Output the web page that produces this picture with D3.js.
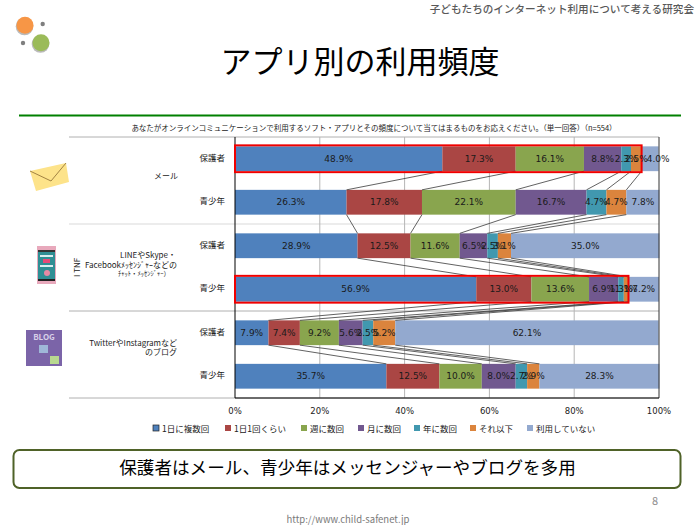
<!DOCTYPE html>
<html>
<head>
<meta charset="utf-8">
<script src="https://cdnjs.cloudflare.com/ajax/libs/d3/7.8.5/d3.min.js"></script>
<style>
    body { margin: 0; background: #fff; }
    text { font-family: "Noto Sans CJK JP", "DejaVu Sans", sans-serif; }
    .num { font-family: "DejaVu Sans", sans-serif; }
</style>
</head>
<body>
<div id="chart"></div>
<script>
var frequency = ["1日に複数回", "1日1回くらい", "週に数回", "月に数回", "年に数回", "それ以下", "利用していない"];
var colors = ["#4f81bd", "#aa4644", "#89a54e", "#71588f", "#4198af", "#db843d", "#93a9cf"];
var rows = ["mail_p", "mail_y", "inf_p", "inf_y", "blog_p", "blog_y"];
var rowLabels = ["保護者", "青少年", "保護者", "青少年", "保護者", "青少年"];
var mail_p = [48.9, 17.3, 16.1, 8.8, 2.3, 2.5, 4.0];
var mail_y = [26.3, 17.8, 22.1, 16.7, 4.7, 4.7, 7.8];
var inf_p = [28.9, 12.5, 11.6, 6.5, 2.5, 3.1, 35.0];
var inf_y = [56.9, 13.0, 13.6, 6.9, 1.3, 1.1, 7.2];
var blog_p = [7.9, 7.4, 9.2, 5.6, 2.5, 5.2, 62.1];
var blog_y = [35.7, 12.5, 10.0, 8.0, 2.7, 2.9, 28.3];
var rowValues = [mail_p, mail_y, inf_p, inf_y, blog_p, blog_y];
var xTicks = [0, 20, 40, 60, 80, 100];
var highlighted = ["mail_p", "inf_y"];

var svg = d3.select("#chart").append("svg")
    .attr("width", 700)
    .attr("height", 525)
    .style("display", "block");

// slide header
svg.append("text").attr("x", 694).attr("y", 13).attr("text-anchor", "end")
    .attr("font-size", 10.6).attr("font-weight", 500).attr("fill", "#595959")
    .text("子どもたちのインターネット利用について考える研究会");
svg.append("text").attr("x", 360).attr("y", 73).attr("text-anchor", "middle")
    .attr("font-size", 31).attr("fill", "#000").text("アプリ別の利用頻度");
svg.append("line").attr("x1", 19).attr("x2", 681).attr("y1", 115.5).attr("y2", 115.5)
    .attr("stroke", "#008000").attr("stroke-width", 2);

// logo
var logo = svg.append("g");
logo.append("circle").attr("cx", 24.5).attr("cy", 26.5).attr("r", 8.8).attr("fill", "#8c8c8c").attr("opacity", 0.6);
logo.append("circle").attr("cx", 40.5).attr("cy", 44).attr("r", 8.8).attr("fill", "#8c8c8c").attr("opacity", 0.6);
logo.append("circle").attr("cx", 25).attr("cy", 25.3).attr("r", 8.5).attr("fill", "#f79646");
logo.append("circle").attr("cx", 41).attr("cy", 42.7).attr("r", 8.5).attr("fill", "#9bbb59");
logo.append("circle").attr("cx", 42.7).attr("cy", 24).attr("r", 2.2).attr("fill", "#7f7f7f");
logo.append("circle").attr("cx", 23).attr("cy", 43).attr("r", 2.2).attr("fill", "#7f7f7f");

svg.append("text").attr("x", 374).attr("y", 130.5).attr("text-anchor", "middle")
    .attr("font-size", 7.5).attr("fill", "#222")
    .text("あなたがオンラインコミュニケーションで利用するソフト・アプリとその頻度について当てはまるものをお応えください。（単一回答）（n=554）");

// set the scales
var x = d3.scaleLinear().domain([0, 100]).range([235, 659]);
var y = d3.scaleBand().domain(rows).range([137, 398]).paddingInner(0.43).paddingOuter(0.215);

var stack = d3.stack().keys(d3.range(frequency.length));
var series = stack(rowValues);

// group separators
var sepY = [137, 224, 311, 398];
var sepColor = ["#b0b0b0", "#d9d9d9", "#b0b0b0", "#b0b0b0"];
sepY.forEach(function (v, i) {
    svg.append("line").attr("x1", 69).attr("x2", 659).attr("y1", v).attr("y2", v)
        .attr("stroke", sepColor[i]).attr("stroke-width", 1);
});

// grid
svg.append("g").selectAll("line").data(xTicks.slice(1, 5)).enter().append("line")
    .attr("x1", d => x(d)).attr("x2", d => x(d))
    .attr("y1", 137).attr("y2", 398)
    .attr("stroke", "#b5b5b5").attr("stroke-width", 1);

// bars
svg.append("g").selectAll("g").data(series).enter().append("g")
    .attr("fill", (d, i) => colors[i])
    .selectAll("rect").data(d => d).enter().append("rect")
    .attr("x", d => x(d[0]))
    .attr("width", d => x(d[1]) - x(d[0]))
    .attr("y", (d, i) => y(rows[i]))
    .attr("height", y.bandwidth());

// series lines between the bars
var links = svg.append("g").attr("stroke", "#3a3a3a").attr("stroke-width", 0.8);
series.slice(0, 6).forEach(function (s) {
    for (var i = 0; i < rows.length - 1; i++) {
        links.append("line")
            .attr("x1", x(s[i][1])).attr("y1", y(rows[i]) + y.bandwidth())
            .attr("x2", x(s[i + 1][1])).attr("y2", y(rows[i + 1]));
    }
});

// axes lines
svg.append("line").attr("x1", 235).attr("x2", 235).attr("y1", 137).attr("y2", 398).attr("stroke", "#000");
svg.append("line").attr("x1", 659).attr("x2", 659).attr("y1", 137).attr("y2", 398).attr("stroke", "#333");
svg.append("line").attr("x1", 235).attr("x2", 659).attr("y1", 398).attr("y2", 398).attr("stroke", "#000");

// highlighted bars
highlighted.forEach(function (r) {
    var i = rows.indexOf(r);
    svg.append("rect")
        .attr("x", x(0)).attr("y", y(r) - 1)
        .attr("width", x(series[5][i][1]) - x(0)).attr("height", y.bandwidth() + 2)
        .attr("fill", "none").attr("stroke", "#f00000").attr("stroke-width", 2);
});

// value labels
series.forEach(function (s, k) {
    s.forEach(function (d, i) {
        // the last label of the first bar sits a bit to the right in the original
        var nudge = (rows[i] == "mail_p" && k == 6) ? 8 : 0;
        svg.append("text").attr("class", "num")
            .attr("x", x((d[0] + d[1]) / 2) + nudge).attr("y", y(rows[i]) + y.bandwidth() / 2 + 3.2)
            .attr("text-anchor", "middle").attr("font-size", 9).attr("fill", "#1a1a1a")
            .text(rowValues[i][k].toFixed(1) + "%");
    });
});

// row labels
rows.forEach(function (r, i) {
    svg.append("text").attr("x", 225).attr("y", y(r) + y.bandwidth() / 2 + 2)
        .attr("text-anchor", "end").attr("font-size", 8.5).attr("fill", "#222")
        .text(rowLabels[i]);
});

// group labels
function groupLabel(xpos, ypos, anchor, size, txt) {
    svg.append("text").attr("x", xpos).attr("y", ypos).attr("text-anchor", anchor)
        .attr("font-size", size).attr("fill", "#222").text(txt);
}
groupLabel(166, 179, "middle", 8, "メール");
groupLabel(148, 258, "middle", 8, "LINEやSkype・");
groupLabel(177, 268, "end", 8, "Facebookﾒｯｾﾝｼﾞｬｰなどの");
groupLabel(144, 276, "middle", 6.5, "ﾁｬｯﾄ・ﾒｯｾﾝｼﾞｬｰ）");
groupLabel(177, 346, "end", 8, "TwitterやInstagramなど");
groupLabel(177, 355, "end", 8, "のブログ");
svg.append("text").attr("transform", "translate(80,277) rotate(-90)")
    .attr("font-size", 8).attr("fill", "#222").text("I TNF");

// x labels
svg.append("g").selectAll("text").data(xTicks).enter().append("text")
    .attr("class", "num")
    .attr("x", d => x(d)).attr("y", 414).attr("text-anchor", "middle")
    .attr("font-size", 8.5).attr("fill", "#222").text(d => d + "%");

// legend
var legendX = [153, 225, 301, 358, 414, 470, 527];
frequency.forEach(function (f, i) {
    svg.append("rect").attr("x", legendX[i]).attr("y", 425).attr("width", 6).attr("height", 6)
        .attr("fill", colors[i]).attr("stroke", i == 0 ? "#222" : "none").attr("stroke-width", 0.7);
    svg.append("text").attr("x", legendX[i] + 9).attr("y", 431.5).attr("font-size", 8.5)
        .attr("fill", "#222").text(f);
});

// envelope icon
var mailIcon = svg.append("g");
mailIcon.append("path").attr("d", d3.line()([[30, 171], [66, 163], [69, 182], [36, 191]])).attr("fill", "#fde38a");
mailIcon.append("path").attr("d", d3.line()([[30, 171], [51, 181], [66, 163]])).attr("fill", "none")
    .attr("stroke", "#8a6a30").attr("stroke-width", 0.8);

// phone icon
var phone = svg.append("g");
phone.append("rect").attr("x", 37).attr("y", 246).attr("width", 19).attr("height", 38).attr("fill", "#e8a9bc");
phone.append("rect").attr("x", 38).attr("y", 250).attr("width", 17).attr("height", 30).attr("fill", "#2f8f94");
phone.append("rect").attr("x", 38).attr("y", 250).attr("width", 17).attr("height", 2).attr("fill", "#333");
phone.append("rect").attr("x", 38).attr("y", 279).attr("width", 17).attr("height", 2).attr("fill", "#222");
phone.append("rect").attr("x", 40).attr("y", 255).attr("width", 13).attr("height", 2).attr("fill", "#d8eef0");
phone.append("rect").attr("x", 43).attr("y", 259).attr("width", 7).attr("height", 4).attr("fill", "#e84a78");
phone.append("rect").attr("x", 40).attr("y", 265).attr("width", 13).attr("height", 2).attr("fill", "#d8eef0");
phone.append("circle").attr("cx", 47).attr("cy", 273).attr("r", 3).attr("fill", "#e88aa4");

// blog icon
var blog = svg.append("g");
blog.append("rect").attr("x", 26).attr("y", 330).attr("width", 36).attr("height", 36).attr("fill", "#7b64a8");
blog.append("text").attr("x", 44).attr("y", 340).attr("text-anchor", "middle")
    .attr("font-size", 8).attr("font-weight", 700).attr("fill", "#d8d0e8").text("BLOG");
blog.append("rect").attr("x", 39).attr("y", 345).attr("width", 9).attr("height", 8).attr("fill", "#9fb7d8");
blog.append("rect").attr("x", 50).attr("y", 356).attr("width", 9).attr("height", 8).attr("fill", "#b8d890");

// bottom message
svg.append("rect").attr("x", 13.5).attr("y", 450).attr("width", 667).attr("height", 38).attr("rx", 6)
    .attr("fill", "#fff").attr("stroke", "#4f6228").attr("stroke-width", 2);
svg.append("text").attr("x", 347.5).attr("y", 474).attr("text-anchor", "middle")
    .attr("font-size", 17.6).attr("fill", "#000")
    .text("保護者はメール、青少年はメッセンジャーやブログを多用");
svg.append("text").attr("x", 655).attr("y", 505).attr("text-anchor", "middle")
    .attr("font-size", 11).attr("fill", "#8c8c8c").text("8");
svg.append("text").attr("x", 348).attr("y", 522.5).attr("text-anchor", "middle")
    .attr("font-size", 9.5).attr("fill", "#7a7a7a").text("http://www.child-safenet.jp");
</script>
</body>
</html>
